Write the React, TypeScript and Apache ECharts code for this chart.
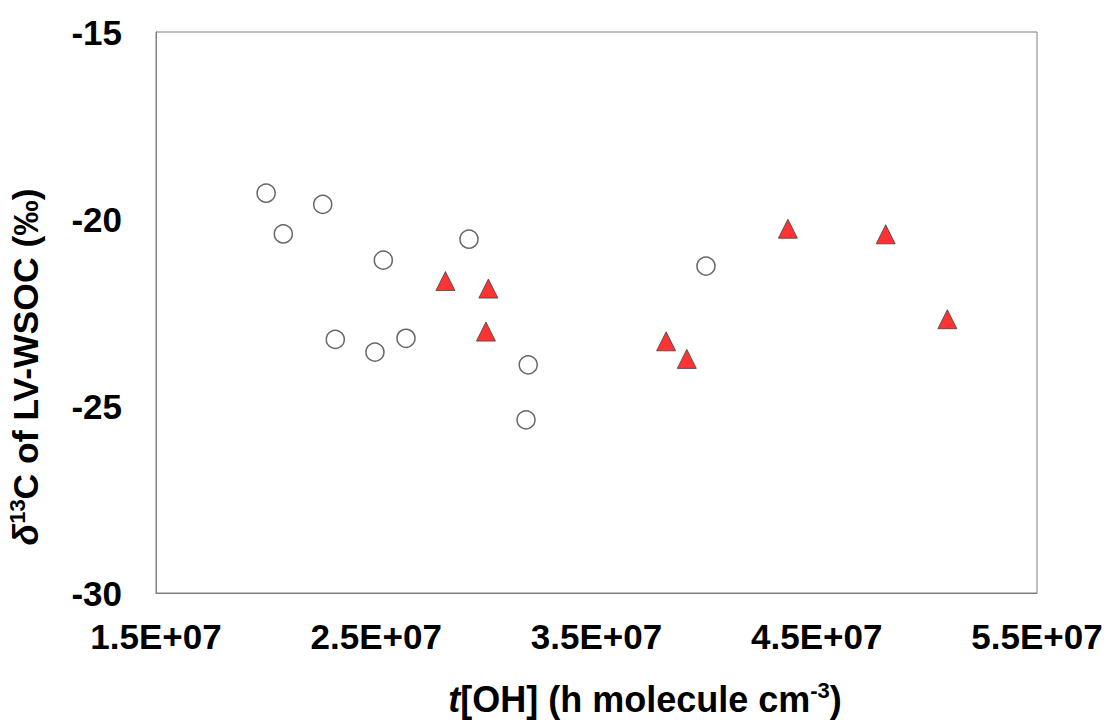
import React, { useEffect, useRef } from "react";
import * as echarts from "echarts";

const circleX = [2.0e7, 2.257e7, 2.078e7, 2.921e7, 2.532e7, 2.314e7, 2.494e7, 2.635e7, 3.19e7, 3.18e7, 3.997e7];
const circleY = [-19.31, -19.61, -20.4, -20.54, -21.1, -23.22, -23.56, -23.19, -23.9, -25.37, -21.26];
const triangleX = [2.814e7, 3.009e7, 2.998e7, 3.816e7, 3.91e7, 4.369e7, 4.813e7, 5.093e7];
const triangleY = [-21.66, -21.86, -23.01, -23.27, -23.74, -20.26, -20.41, -22.68];
const xTickLabels = ["1.5E+07", "2.5E+07", "3.5E+07", "4.5E+07", "5.5E+07"];
const yTickLabels = ["-30", "-25", "-20", "-15"];

const FONT = "'Liberation Sans', Arial, sans-serif";

export default function App() {
  const ref = useRef<HTMLDivElement>(null);
  useEffect(() => {
    if (!ref.current) return;
    const chart = echarts.init(ref.current, null, { renderer: "svg" });
    const circles = circleX.map((x, i) => [x, circleY[i]]);
    const triangles = triangleX.map((x, i) => [x, triangleY[i]]);
    chart.setOption({
      animation: false,
      backgroundColor: "#ffffff",
      grid: {
        left: 156,
        top: 32,
        right: 72,
        bottom: 129,
        show: true,
        borderColor: "#7f7f7f",
        borderWidth: 1,
        backgroundColor: "transparent",
      },
      xAxis: {
        type: "value",
        min: 1.5e7,
        max: 5.5e7,
        interval: 5e6,
        splitLine: { show: false },
        axisTick: { show: false },
        axisLine: { show: true, lineStyle: { color: "#7f7f7f", width: 1 } },
        axisLabel: {
          margin: 26,
          color: "#000",
          fontFamily: FONT,
          fontWeight: "bold",
          fontSize: 35,
          showMinLabel: true,
          showMaxLabel: true,
          formatter: (v: number) => {
            const s = (v / 1e7).toFixed(1) + "E+07";
            return xTickLabels.indexOf(s) >= 0 ? s : "";
          },
        },
      },
      yAxis: {
        type: "value",
        min: -30,
        max: -15,
        interval: 5,
        splitLine: { show: false },
        axisTick: { show: false },
        axisLine: { show: true, lineStyle: { color: "#7f7f7f", width: 1 } },
        axisLabel: {
          margin: 34,
          color: "#000",
          fontFamily: FONT,
          fontWeight: "bold",
          fontSize: 35,
          formatter: (v: number) => {
            const s = String(Math.round(v));
            return yTickLabels.indexOf(s) >= 0 ? s : "";
          },
        },
      },
      graphic: [
        {
          type: "text",
          x: 645,
          y: 699,
          style: {
            text: "{i|t}{n|[OH] (h molecule cm}{s|-3}{n|)}",
            align: "center",
            verticalAlign: "middle",
            rich: {
              i: { fontFamily: FONT, fontSize: 36, fontWeight: "bold", fontStyle: "italic", fill: "#000" },
              n: { fontFamily: FONT, fontSize: 36, fontWeight: "bold", fill: "#000" },
              s: { fontFamily: FONT, fontSize: 22, fontWeight: "bold", fill: "#000", verticalAlign: "top", padding: [0, 0, 17, 0] },
            },
          },
        },
        {
          type: "text",
          x: 26,
          y: 367,
          rotation: Math.PI / 2,
          style: {
            text: "{d|δ}{s|13}{n|C of LV-WSOC (‰)}",
            align: "center",
            verticalAlign: "middle",
            rich: {
              d: { fontFamily: FONT, fontSize: 35.5, fontWeight: "bold", fontStyle: "italic", fill: "#000" },
              n: { fontFamily: FONT, fontSize: 35.5, fontWeight: "bold", fill: "#000" },
              s: { fontFamily: FONT, fontSize: 22, fontWeight: "bold", fill: "#000", verticalAlign: "top", padding: [0, 0, 17, 0] },
            },
          },
        },
      ],
      series: [
        {
          type: "scatter",
          data: circles,
          symbol: "circle",
          symbolSize: 18,
          itemStyle: { color: "#ffffff", borderColor: "#404040", borderWidth: 1.5 },
        },
        {
          type: "scatter",
          data: triangles,
          symbol: "triangle",
          symbolSize: [19, 19],
          itemStyle: { color: "#ff0000", borderColor: "#404040", borderWidth: 1 },
        },
      ],
    });
    return () => chart.dispose();
  }, []);
  return (
    <div
      ref={ref}
      style={{ position: "absolute", left: 0, top: 0, width: 1109, height: 722 }}
    />
  );
}
